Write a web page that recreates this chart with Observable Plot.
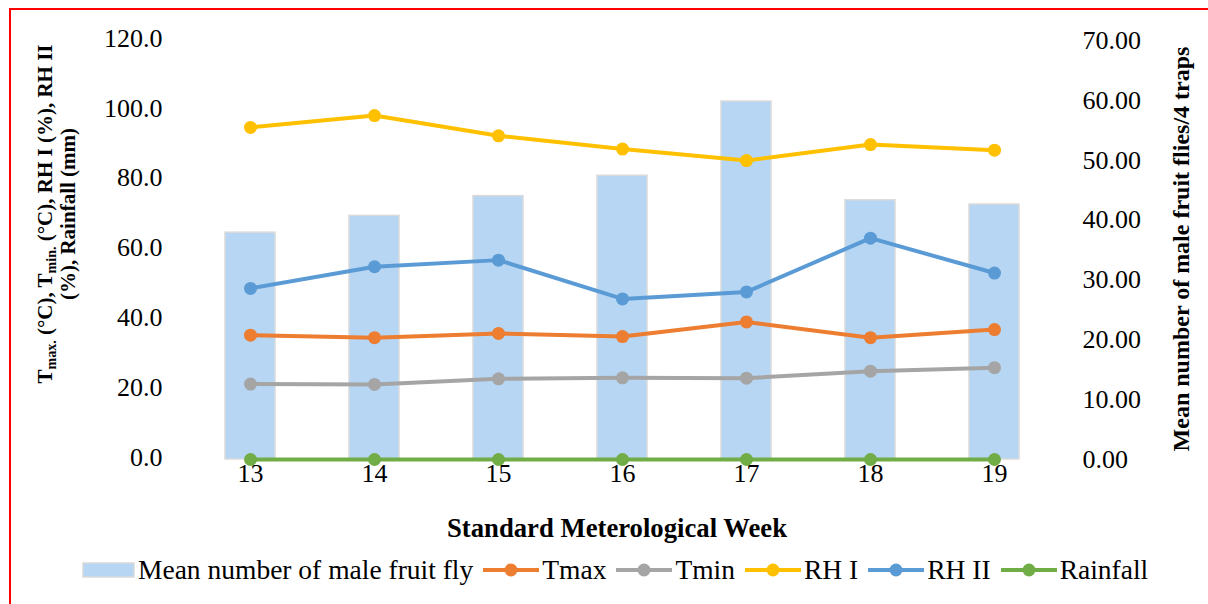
<!DOCTYPE html>
<html>
<head>
<meta charset="utf-8">
<script src="https://cdn.jsdelivr.net/npm/d3@7"></script>
<script src="https://cdn.jsdelivr.net/npm/@observablehq/plot@0.6"></script>
<style>
  html, body { margin: 0; padding: 0; background: #fff; }
  body { width: 1208px; height: 604px; position: relative; overflow: hidden; font-family: "Liberation Serif", "Times New Roman", serif; }
  #frame { position: absolute; left: 9px; top: 8px; width: 1400px; height: 800px; border-left: 2px solid #ff0000; border-top: 2px solid #ff0000; pointer-events: none; }
  #chart { position: absolute; left: 0; top: 0; }
  #chart svg text { font-family: "Liberation Serif", "Times New Roman", serif; }
  #legend { position: absolute; left: 82px; top: 555px; display: flex; align-items: center; font-size: 27.5px; line-height: 30px; color: #000; white-space: nowrap; font-family: "Liberation Serif", "Times New Roman", serif; }
  #legend .item { display: flex; align-items: center; margin-right: 10px; }
  #legend svg { margin-right: 3px; }
</style>
</head>
<body>
<div id="chart"></div>
<div id="legend"></div>
<div id="frame"></div>
<script>
const weeks = ["13", "14", "15", "16", "17", "18", "19"];
const flies = [37.9, 40.7, 44.0, 47.4, 59.8, 43.3, 42.6];
const tmax = [35.6, 34.9, 36.1, 35.2, 39.4, 34.9, 37.2];
const tmin = [21.6, 21.5, 23.1, 23.4, 23.3, 25.3, 26.3];
const rh1 = [95.1, 98.5, 92.7, 88.9, 85.6, 90.2, 88.6];
const rh2 = [49.0, 55.2, 57.1, 46.0, 48.0, 63.4, 53.4];
const rainfall = [0, 0, 0, 0, 0, 0, 0];
const leftTicks = [0, 20, 40, 60, 80, 100, 120];
const rightTicks = [0, 10, 20, 30, 40, 50, 60, 70];
const seriesNames = ["Tmax", "Tmin", "RH I", "RH II", "Rainfall"];
const seriesColors = ["#ED7D31", "#A5A5A5", "#FFC000", "#5B9BD5", "#70AD47"];
const barName = "Mean number of male fruit fly";
const barColor = "#B6D6F3";

const leftMax = 120, rightMax = 70;
const toLeft = v => v * leftMax / rightMax;

const barData = weeks.map((w, i) => ({week: w, value: toLeft(flies[i])}));
const seriesValues = [tmax, tmin, rh1, rh2, rainfall];
const lineData = [];
seriesNames.forEach((s, k) => weeks.forEach((w, i) => lineData.push({series: s, week: w, value: seriesValues[k][i]})));

const fontFamily = '"Liberation Serif", "Times New Roman", serif';

const plot = Plot.plot({
  width: 1208,
  height: 548,
  marginLeft: 188,
  marginRight: 152,
  marginTop: 40,
  marginBottom: 89,
  style: {fontFamily, fontSize: "26px", color: "#000", background: "transparent", overflow: "visible"},
  x: {domain: weeks, paddingInner: 0.6, paddingOuter: 0.3, label: null},
  y: {domain: [0, leftMax], label: null},
  color: {domain: seriesNames, range: seriesColors},
  marks: [
    Plot.gridY(leftTicks, {stroke: "#d9d9d9", strokeOpacity: 1, strokeWidth: 1.5, x1: 187, x2: 1058}),
    Plot.axisY(leftTicks, {anchor: "left", tickSize: 0, tickPadding: 26, dy: -2, tickFormat: d => d.toFixed(1), label: null, fontSize: 26, fontFamily}),
    Plot.axisY(rightTicks.map(toLeft), {anchor: "right", tickSize: 0, tickPadding: 26, tickFormat: d => (d * rightMax / leftMax).toFixed(2), label: null, fontSize: 26, fontFamily}),
    Plot.axisX({tickSize: 0, tickPadding: 4, label: null, fontSize: 26, fontFamily}),
    Plot.barY(barData, {x: "week", y: "value", fill: barColor, stroke: "#dadada", strokeWidth: 1.5}),
    Plot.line(lineData, {x: "week", y: "value", z: "series", stroke: "series", strokeWidth: 4}),
    Plot.dot(lineData, {x: "week", y: "value", fill: "series", r: 6.5})
  ]
});

const svg = d3.select(plot);
// X axis title
svg.append("text")
  .attr("x", 617).attr("y", 537)
  .attr("text-anchor", "middle")
  .attr("font-weight", "bold").attr("font-size", 26.7).attr("font-family", fontFamily)
  .text("Standard Meterological Week");

// Left axis title (two lines, with subscripts)
const lt = svg.append("text")
  .attr("transform", "translate(52,214) rotate(-90)")
  .attr("text-anchor", "middle")
  .attr("font-weight", "bold").attr("font-size", 21).attr("font-family", fontFamily);
const l1 = lt.append("tspan").attr("x", 0).attr("y", 0);
l1.append("tspan").text("T");
l1.append("tspan").attr("font-size", 14).attr("dy", 4).text("max.");
l1.append("tspan").attr("dy", -4).text(" (°C), T");
l1.append("tspan").attr("font-size", 14).attr("dy", 4).text("min.");
l1.append("tspan").attr("dy", -4).text(" (°C), RH I (%), RH II");
lt.append("tspan").attr("x", 0).attr("y", 23).text("(%), Rainfall (mm)");

// Right axis title
svg.append("text")
  .attr("transform", "translate(1189,249) rotate(-90)")
  .attr("text-anchor", "middle")
  .attr("font-weight", "bold").attr("font-size", 24).attr("font-family", fontFamily)
  .text("Mean number of male fruit flies/4 traps");

document.getElementById("chart").appendChild(plot);

// Legend
const legend = d3.select("#legend");
const bItem = legend.append("div").attr("class", "item");
const bs = bItem.append("svg").attr("width", 53).attr("height", 16);
bs.append("rect").attr("x", 1).attr("y", 1).attr("width", 51).attr("height", 14).attr("fill", barColor).attr("stroke", "#dadada").attr("stroke-width", 1.5);
bItem.append("span").text(barName);
seriesNames.forEach((s, k) => {
  const it = legend.append("div").attr("class", "item");
  const sw = it.append("svg").attr("width", 56).attr("height", 16);
  sw.append("line").attr("x1", 0).attr("x2", 56).attr("y1", 8).attr("y2", 8).attr("stroke", seriesColors[k]).attr("stroke-width", 4).attr("stroke-linecap", "round");
  sw.append("circle").attr("cx", 28).attr("cy", 8).attr("r", 6.5).attr("fill", seriesColors[k]);
  it.append("span").text(s);
});
</script>
</body>
</html>
